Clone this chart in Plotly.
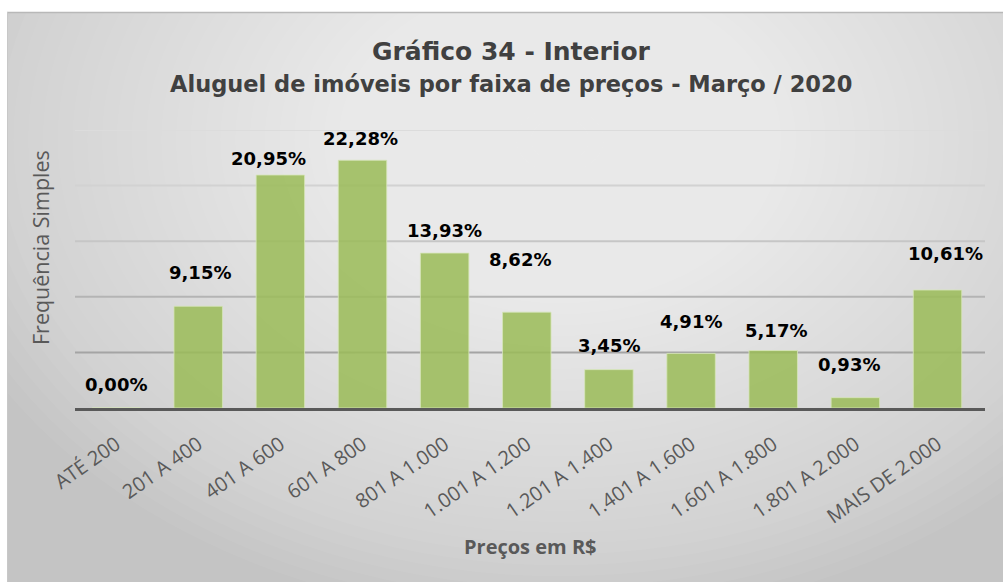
import plotly.graph_objects as go

# ---- data ----
categories = ["ATÉ 200", "201 A 400", "401 A 600", "601 A 800", "801 A 1.000",
              "1.001 A 1.200", "1.201 A 1.400", "1.401 A 1.600", "1.601 A 1.800",
              "1.801 A 2.000", "MAIS DE 2.000"]
values = [0.00, 9.15, 20.95, 22.28, 13.93, 8.62, 3.45, 4.91, 5.17, 0.93, 10.61]
y_ticks = [0, 5, 10, 15, 20, 25]
title_text = "Gráfico 34 - Interior"
subtitle_text = "Aluguel de imóveis por faixa de preços - Março / 2020"
x_title = "Preços em R$"
y_title = "Frequência Simples"

# ---- style (label offsets in px, as in the reference's hand-placed labels) ----
label_dy = [24, 34, 17, 22, 23, 53, 24, 32, 20, 33, 37]
label_dx = [0, 2, -12, -2, 0, -7, 0, 0, 3, -6, 8]
grid_colors = ["#5a5a5a", "#a4a4a4", "#b4b4b4", "#c6c6c6", "#d2d2d2", "#dcdcdc"]

W, H = 1003, 583
L, R, T, B = 75, 18, 130, 175
PW, PH = W - L - R, H - T - B


def px_x(px):
    return (px - L) / PW


def px_y(py):
    return (H - B - py) / PH


fig = go.Figure()
fig.add_trace(go.Bar(
    x=categories, y=values,
    marker=dict(color="rgba(155,187,89,0.86)",
                line=dict(color="rgba(215,230,185,0.8)", width=1)),
    hoverinfo="x+y",
))

shapes = []
# background panel with radial-ish gradient
shapes.append(dict(type="rect", xref="paper", yref="paper", layer="below",
                   x0=px_x(7), x1=px_x(1003), y0=px_y(582), y1=px_y(12),
                   fillcolor="#c4c4c4", line=dict(width=0)))
N = 44
cx, cy = 560, 140
for i in range(N):
    f = 1 - i / N
    rx, ry = 650 * f, 480 * f
    shapes.append(dict(type="circle", xref="paper", yref="paper", layer="below",
                       x0=px_x(cx - rx), x1=px_x(cx + rx),
                       y0=px_y(cy + ry), y1=px_y(cy - ry),
                       fillcolor="rgba(255,255,255,0.042)", line=dict(width=0)))
# mask outside of panel (white)
shapes.append(dict(type="rect", xref="paper", yref="paper", layer="below",
                   x0=px_x(-50), x1=px_x(1100), y0=px_y(12), y1=px_y(-100),
                   fillcolor="white", line=dict(width=0)))
shapes.append(dict(type="rect", xref="paper", yref="paper", layer="below",
                   x0=px_x(-50), x1=px_x(7), y0=px_y(700), y1=px_y(-100),
                   fillcolor="white", line=dict(width=0)))
shapes.append(dict(type="rect", xref="paper", yref="paper", layer="below",
                   x0=px_x(-50), x1=px_x(1100), y0=px_y(700), y1=px_y(582),
                   fillcolor="white", line=dict(width=0)))
# panel border (top / left)
shapes.append(dict(type="line", xref="paper", yref="paper", layer="below",
                   x0=px_x(7), x1=px_x(1003), y0=px_y(12.5), y1=px_y(12.5),
                   line=dict(color="#b8b8b8", width=1.5)))
shapes.append(dict(type="line", xref="paper", yref="paper", layer="below",
                   x0=px_x(7.5), x1=px_x(7.5), y0=px_y(12), y1=px_y(582),
                   line=dict(color="#c8c8c8", width=1)))
# gridlines
for v, c in zip(y_ticks[1:], grid_colors[1:]):
    shapes.append(dict(type="line", xref="paper", yref="y", layer="below",
                       x0=0, x1=1, y0=v, y1=v, line=dict(color=c, width=2)))

annotations = []
for cat, v, dy, dx in zip(categories, values, label_dy, label_dx):
    annotations.append(dict(x=cat, y=v, xref="x", yref="y",
                            text="<b>" + f"{v:.2f}".replace(".", ",") + "%</b>",
                            showarrow=False, yanchor="middle", xanchor="center",
                            yshift=dy, xshift=dx,
                            font=dict(family="DejaVu Sans", size=18, color="#000000")))
annotations.append(dict(x=px_x(511), y=px_y(51), xref="paper", yref="paper",
                        text=f"<b>{title_text}</b>", showarrow=False,
                        xanchor="center", yanchor="middle",
                        font=dict(family="DejaVu Sans", size=25, color="#404040")))
annotations.append(dict(x=px_x(511), y=px_y(84), xref="paper", yref="paper",
                        text=f"<b>{subtitle_text}</b>", showarrow=False,
                        xanchor="center", yanchor="middle",
                        font=dict(family="DejaVu Sans", size=22.5, color="#404040")))
annotations.append(dict(x=0.5, y=px_y(546), xref="paper", yref="paper",
                        text=f"<b>{x_title}</b>", showarrow=False,
                        xanchor="center", yanchor="middle",
                        font=dict(family="Open Sans", size=20, color="#595959")))
annotations.append(dict(x=px_x(40), y=px_y(248), xref="paper", yref="paper",
                        text=y_title, showarrow=False, textangle=-90,
                        xanchor="center", yanchor="middle",
                        font=dict(family="Open Sans", size=21.5, color="#595959")))

fig.update_layout(
    width=W, height=H,
    margin=dict(l=L, r=R, t=T, b=B, autoexpand=False),
    paper_bgcolor="white", plot_bgcolor="rgba(0,0,0,0)",
    bargap=0.41, showlegend=False,
    shapes=shapes, annotations=annotations,
    xaxis=dict(tickangle=-35, showgrid=False, showline=True,
               linecolor="#595959", linewidth=3,
               ticks="outside", ticklen=14, tickcolor="rgba(0,0,0,0)",
               tickfont=dict(family="Open Sans", size=20, color="#595959"),
               automargin=False, fixedrange=True),
    yaxis=dict(range=[0, 25], tickvals=y_ticks, showgrid=False,
               showticklabels=False, zeroline=False, showline=False,
               automargin=False, fixedrange=True),
)

fig.write_html("out.html", config={"displayModeBar": False},
               post_script="document.body.style.margin='0';document.body.style.overflow='hidden';")
